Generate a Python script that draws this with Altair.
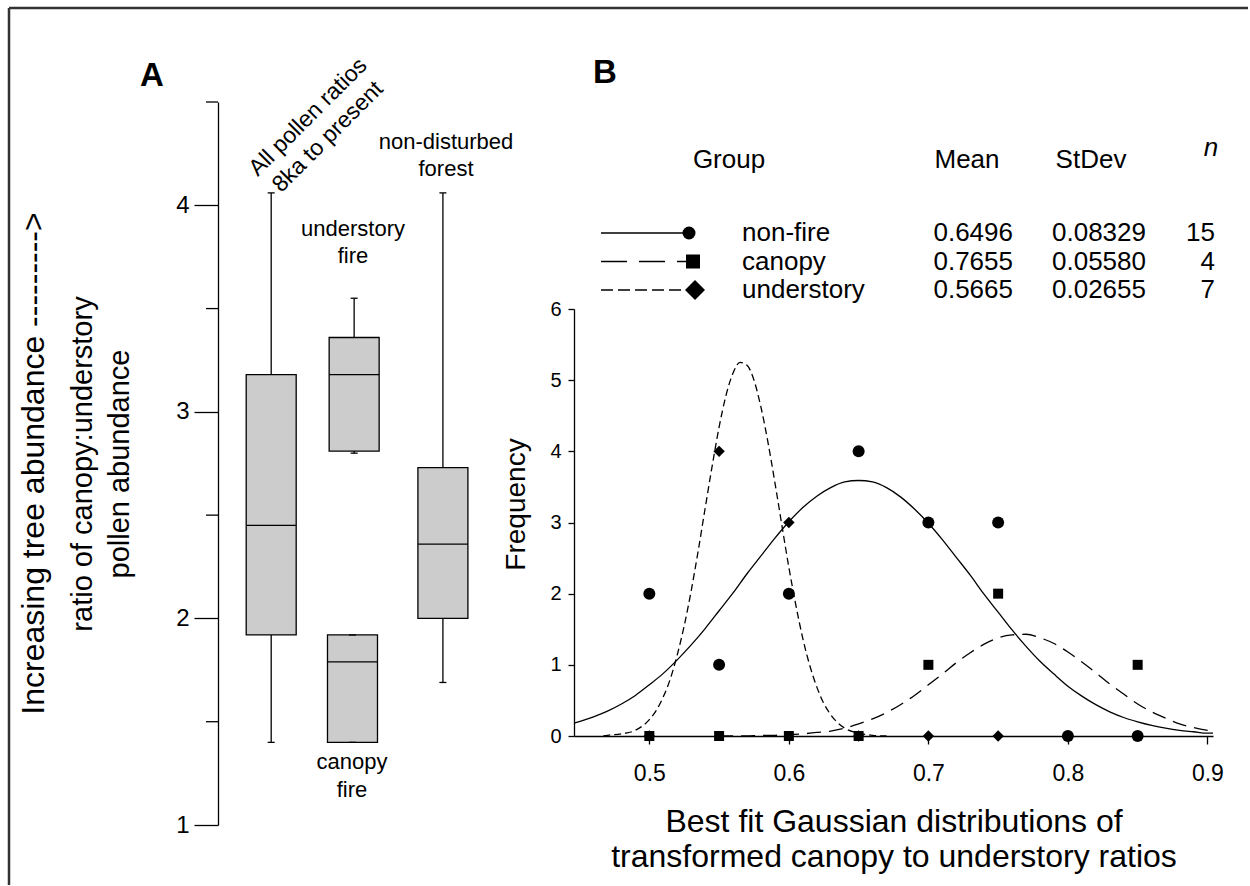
import altair as alt
import pandas as pd

FONT = "Liberation Sans"

# ---------------- Panel A : box summaries ----------------
box_names = ["All pollen ratios\n8ka to present", "understory\nfire", "canopy\nfire", "non-disturbed\nforest"]
box_pos = [1.00, 2.00, 1.98, 3.07]
whisker_low = [1.40, 2.80, 1.40, 1.69]
box_q1 = [1.92, 2.81, 1.40, 2.00]
box_median = [2.45, 3.18, 1.79, 2.36]
box_q3 = [3.18, 3.36, 1.92, 2.73]
whisker_high = [4.06, 3.55, 1.92, 4.06]
a_major_ticks = [1, 2, 3, 4]
a_minor_ticks = [1.5, 2.5, 3.5, 4.5]

# ---------------- Panel B : histogram counts ----------------
nonfire_x = [0.50, 0.55, 0.60, 0.65, 0.70, 0.75, 0.80, 0.85]
nonfire_n = [2, 1, 2, 4, 3, 3, 0, 0]
canopy_x = [0.50, 0.55, 0.60, 0.65, 0.70, 0.75, 0.85]
canopy_n = [0, 0, 0, 0, 1, 2, 1]
understory_x = [0.50, 0.55, 0.60, 0.65, 0.70, 0.75]
understory_n = [0, 4, 3, 0, 0, 0]

# fitted curves
nonfire_cx = [0.446, 0.46, 0.47, 0.48, 0.49, 0.50, 0.51, 0.52, 0.53, 0.54, 0.55, 0.56, 0.57, 0.58, 0.59,
              0.60, 0.61, 0.62, 0.63, 0.64, 0.65, 0.66, 0.67, 0.68, 0.69, 0.70, 0.71, 0.72, 0.73, 0.74,
              0.75, 0.76, 0.77, 0.78, 0.79, 0.80, 0.81, 0.82, 0.83, 0.84, 0.85, 0.86, 0.87, 0.88, 0.89,
              0.90, 0.904]
nonfire_cy = [0.18, 0.27, 0.35, 0.45, 0.57, 0.72, 0.88, 1.07, 1.28, 1.51, 1.76, 2.01, 2.28, 2.53, 2.78,
              3.01, 3.21, 3.37, 3.49, 3.57, 3.59, 3.57, 3.49, 3.36, 3.19, 2.99, 2.76, 2.51, 2.26, 1.99,
              1.74, 1.49, 1.26, 1.05, 0.87, 0.70, 0.56, 0.44, 0.34, 0.26, 0.20, 0.15, 0.11, 0.08, 0.06,
              0.04, 0.04]
canopy_cx = [0.55, 0.57, 0.58, 0.59, 0.60, 0.61, 0.62, 0.63, 0.64, 0.65, 0.66, 0.67, 0.68, 0.69, 0.70,
             0.71, 0.72, 0.73, 0.74, 0.75, 0.76, 0.77, 0.78, 0.79, 0.80, 0.81, 0.82, 0.83, 0.84, 0.85,
             0.86, 0.87, 0.88, 0.89, 0.90, 0.904]
canopy_cy = [0.00, 0.00, 0.01, 0.01, 0.02, 0.03, 0.05, 0.07, 0.11, 0.17, 0.24, 0.33, 0.44, 0.57, 0.72,
             0.87, 1.03, 1.17, 1.29, 1.38, 1.42, 1.43, 1.38, 1.30, 1.18, 1.04, 0.89, 0.73, 0.59, 0.45,
             0.34, 0.25, 0.17, 0.12, 0.08, 0.07]
understory_cx = [0.467, 0.47, 0.48, 0.49, 0.50, 0.505, 0.51, 0.515, 0.52, 0.525, 0.53, 0.535, 0.54, 0.545,
                 0.55, 0.555, 0.56, 0.565, 0.57, 0.575, 0.58, 0.585, 0.59, 0.595, 0.60, 0.605, 0.61, 0.615,
                 0.62, 0.625, 0.63, 0.64, 0.65, 0.66, 0.67]
understory_cy = [0.00, 0.01, 0.03, 0.08, 0.23, 0.36, 0.55, 0.80, 1.14, 1.55, 2.04, 2.60, 3.20, 3.79,
                 4.34, 4.79, 5.10, 5.25, 5.21, 5.00, 4.62, 4.13, 3.56, 2.96, 2.37, 1.84, 1.37, 0.99,
                 0.69, 0.46, 0.30, 0.11, 0.04, 0.01, 0.00]

legend_groups = ["non-fire", "canopy", "understory"]
legend_mean = [0.6496, 0.7655, 0.5665]
legend_sd = [0.08329, 0.05580, 0.02655]
legend_n = [15, 4, 7]
b_x_ticks = [0.5, 0.6, 0.7, 0.8, 0.9]
b_y_ticks = [0, 1, 2, 3, 4, 5, 6]

# ======================= Panel A =======================
A_W, A_H = 283, 723
dfA = pd.DataFrame(dict(name=box_names, pos=box_pos, lo=whisker_low, q1=box_q1,
                        med=box_median, q3=box_q3, hi=whisker_high))
xA = alt.X("pos:Q", scale=alt.Scale(domain=[0.419, 3.71], nice=False, zero=False), axis=None)
ysA = alt.Scale(domain=[1, 4.5], nice=False, zero=False)
axA = alt.Axis(values=a_major_ticks, format="d", tickSize=24, labelFontSize=24, labelPadding=5,
               title=["ratio of canopy:understory", "pollen abundance"], titleFontSize=29,
               titleAngle=270, titleX=-127, titleY=361.5, titleAlign="center",
               titleBaseline="alphabetic", titleLineHeight=37)

baseA = alt.Chart(dfA)
whiskers = baseA.mark_rule(color="black", strokeWidth=1.3).encode(
    x=xA, y=alt.Y("lo:Q", scale=ysA, axis=axA), y2="hi:Q")
boxes = baseA.mark_bar(size=50, fill="#cccccc", stroke="black", strokeWidth=1.3, opacity=1).encode(
    x=xA, y=alt.Y("q1:Q", scale=ysA, axis=axA), y2="q3:Q")
medians = baseA.mark_tick(orient="horizontal", size=50, thickness=1.3, color="black", opacity=1).encode(
    x=xA, y=alt.Y("med:Q", scale=ysA, axis=axA))
caps_lo = baseA.mark_tick(orient="horizontal", size=7, thickness=1.3, color="black", opacity=1).encode(
    x=xA, y=alt.Y("lo:Q", scale=ysA, axis=axA))
caps_hi = baseA.mark_tick(orient="horizontal", size=7, thickness=1.3, color="black", opacity=1).encode(
    x=xA, y=alt.Y("hi:Q", scale=ysA, axis=axA))
minor = alt.Chart(pd.DataFrame({"v": a_minor_ticks})).mark_rule(color="black", strokeWidth=1.3).encode(
    y=alt.Y("v:Q", scale=ysA, axis=axA), x=alt.value(-12), x2=alt.value(0))


def txt(s, x, y, size, **kw):
    return alt.Chart(pd.DataFrame({"t": [s]})).mark_text(
        fontSize=size, font=FONT, color="black", lineBreak="\n", **kw
    ).encode(text="t:N", x=alt.value(x), y=alt.value(y))


annA = [
    txt(box_names[0], 90, 15, 23, angle=315, align="center", baseline="middle", lineHeight=28),
    txt(box_names[1], 135, 134, 22, align="center", baseline="alphabetic", lineHeight=27),
    txt(box_names[2], 134, 667, 22, align="center", baseline="alphabetic", lineHeight=28),
    txt(box_names[3], 228, 47, 22, align="center", baseline="alphabetic", lineHeight=27),
    txt("A", -66, -26, 33, fontWeight="bold", align="center", baseline="middle"),
    txt("Increasing tree abundance --------->", -174, 361.5, 32, angle=270, align="center",
        baseline="alphabetic"),
]

dummy = pd.DataFrame({"d": [0]})
frame_v = alt.Chart(dummy).mark_rule(color="#333333", strokeWidth=2.5).encode(
    x=alt.value(-209), y=alt.value(-94), y2=alt.value(783))
frame_h = alt.Chart(dummy).mark_rule(color="#333333", strokeWidth=2.5).encode(
    x=alt.value(-209), x2=alt.value(1030), y=alt.value(-94))

panelA = alt.layer(frame_v, frame_h, whiskers, boxes, medians, caps_lo, caps_hi, minor, *annA).properties(
    width=A_W, height=A_H)

# ======================= Panel B =======================
B_W, B_H = 639, 427
xsB = alt.Scale(domain=[0.446, 0.904], nice=False, zero=False)
ysB = alt.Scale(domain=[0, 6], nice=False, zero=False)
axBx = alt.Axis(values=b_x_ticks, format=".1f", tickSize=8, labelFontSize=23, labelPadding=18,
                title=["Best fit Gaussian distributions of", "transformed canopy to understory ratios"],
                titleFontSize=32, titleX=319.5, titleY=95, titleAlign="center",
                titleBaseline="alphabetic", titleLineHeight=35)
axBy = alt.Axis(values=b_y_ticks, format="d", tickSize=6, labelFontSize=20, labelPadding=7,
                title="Frequency", titleFontSize=28, titleAngle=270, titleX=-50, titleY=195,
                titleAlign="center", titleBaseline="alphabetic")


def curve(xs, ys, dash):
    d = pd.DataFrame({"x": xs, "f": ys})
    kw = {"strokeDash": dash} if dash else {}
    return alt.Chart(d).mark_line(color="black", strokeWidth=1.3, interpolate="monotone", **kw).encode(
        x=alt.X("x:Q", scale=xsB, axis=axBx), y=alt.Y("f:Q", scale=ysB, axis=axBy))


def pts(xs, ns, shape, size):
    d = pd.DataFrame({"x": xs, "f": ns})
    return alt.Chart(d).mark_point(shape=shape, size=size, filled=True, color="black", opacity=1).encode(
        x=alt.X("x:Q", scale=xsB, axis=axBx), y=alt.Y("f:Q", scale=ysB, axis=axBy))


layersB = [
    curve(nonfire_cx, nonfire_cy, None),
    curve(canopy_cx, canopy_cy, [14, 8]),
    curve(understory_cx, understory_cy, [7, 4]),
    pts(canopy_x, canopy_n, "square", 100),
    pts(understory_x, understory_n, "diamond", 130),
    pts(nonfire_x, nonfire_n, "circle", 144),
]

# legend table
LFS = 26
row_y = [-76, -47.5, -19]
legend_dash = [None, [26, 12], [12, 5]]
legend_shape = ["circle", "square", "diamond"]
legend_size = [169, 196, 400]
legend_mx = [115, 119, 121]
layersB += [
    txt("Group", 155, -149, LFS, align="center", baseline="middle"),
    txt("Mean", 393, -149, LFS, align="center", baseline="middle"),
    txt("StDev", 517, -149, LFS, align="center", baseline="middle"),
    txt("n", 637, -161, LFS, align="center", baseline="middle", fontStyle="italic"),
    txt("B", 31, -236, 33, fontWeight="bold", align="center", baseline="middle"),
]
for i, g in enumerate(legend_groups):
    yv = row_y[i]
    kw = {"strokeDash": legend_dash[i]} if legend_dash[i] else {}
    layersB.append(alt.Chart(dummy).mark_rule(color="black", strokeWidth=1.3, **kw).encode(
        x=alt.value(27), x2=alt.value(legend_mx[i] - 4), y=alt.value(yv)))
    layersB.append(alt.Chart(dummy).mark_point(shape=legend_shape[i], size=legend_size[i], filled=True,
                                               color="black", opacity=1).encode(
        x=alt.value(legend_mx[i]), y=alt.value(yv)))
    layersB.append(txt(g, 168, yv, LFS, align="left", baseline="middle"))
    layersB.append(txt(f"{legend_mean[i]:.4f}", 439, yv, LFS, align="right", baseline="middle"))
    layersB.append(txt(f"{legend_sd[i]:.5f}", 572, yv, LFS, align="right", baseline="middle"))
    layersB.append(txt(str(legend_n[i]), 641, yv, LFS, align="right", baseline="middle"))

panelB = alt.layer(*layersB).properties(width=B_W, height=B_H)

spacer = alt.Chart(dummy).mark_point(opacity=0).encode(
    x=alt.X("d:Q", axis=None), y=alt.Y("d:Q", axis=None)).properties(width=10, height=207)

right = alt.vconcat(spacer, panelB, spacing=0, bounds="flush")
chart = alt.hconcat(panelA, right, spacing=73, bounds="flush").properties(
    padding={"left": 7, "top": 6, "right": 0, "bottom": 0}
).configure(font=FONT).configure_view(stroke=None).configure_axis(
    domainColor="black", tickColor="black", labelColor="black", titleColor="black",
    domainWidth=1.3, tickWidth=1.3, grid=False, labelFont=FONT, titleFont=FONT,
    titleFontWeight="normal"
)

chart.save("out.html", embed_options={"renderer": "svg", "actions": False})
